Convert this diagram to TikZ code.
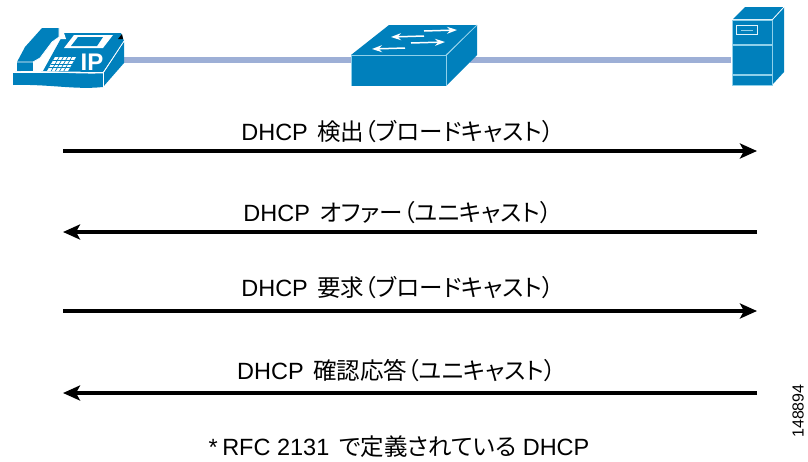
\documentclass[tikz,border=0pt]{standalone}
\usepackage{fontspec}
\setmainfont{Liberation Sans}
\newfontfamily\cjk[RawFeature=+palt]{Noto Sans CJK JP}
\usetikzlibrary{arrows.meta}
\definecolor{iconblue}{HTML}{0080BC}
\definecolor{iconline}{HTML}{8FD0EA}
\definecolor{linkblue}{HTML}{9DAFD6}
\begin{document}
\begin{tikzpicture}[
		x=1pt, y=-1pt,
		msgarrow/.style={-{Stealth[length=17pt,width=15pt,inset=4pt]}, line width=3.6pt},
		msglabel/.style={inner sep=0pt, font=\fontsize{23.5}{25}\selectfont},
		linkline/.style={linkblue, line width=6pt},
		iconedge/.style={white, line width=0.7pt},
		switcharrow/.style={-{Stealth[length=10pt,width=7pt]}, white, line width=1.5pt},
		devicenode/.style={inner sep=0pt, minimum size=0pt},
		]
		\useasboundingbox (0,0) rectangle (808,461);
		%Nodes
		\node[devicenode] (phone)  at (124,59.5) {};
		\node[devicenode] (switch) at (351,59.5) {};
		\node[devicenode] (server) at (731,59.5) {};
		\coordinate (switch-east) at (470,59.5);
		\coordinate (left-1)  at (63,151);
		\coordinate (right-1) at (757,151);
		\coordinate (left-2)  at (63,232);
		\coordinate (right-2) at (757,232);
		\coordinate (left-3)  at (63,311);
		\coordinate (right-3) at (757,311);
		\coordinate (left-4)  at (63,393);
		\coordinate (right-4) at (757,393);

		%Lines
		\draw[linkline] (phone) -- (switch);
		\draw[linkline] (switch-east) -- (server);

		%Phone
		\fill[iconblue] (13,73) -- (103,73) -- (103,87) .. controls (75,90) and (50,84) .. (13,85) -- cycle;
		\fill[iconblue] (103,74) -- (124,42) -- (124,63) -- (103,87) -- cycle;
		\fill[iconblue] (15,71) -- (43,71) -- (64,33) -- (121,33) -- (124,41) -- (103,72) -- cycle;
		\fill[iconblue] (17,62) -- (25,47) -- (42,28) -- (59,28) -- (59,37) -- (52,42) -- (40,58) -- (33,62) -- (33,71) -- (17,71) -- cycle;
		\draw[iconedge] (13,72) .. controls (40,70) and (70,74) .. (103,73) -- (124,41);
		\draw[iconedge] (103,73) -- (103,87);
		\draw[iconedge] (17,62) -- (33,62) -- (40,58) -- (52,42) -- (59,37) -- (59,28);
		\draw[iconedge] (33,62) -- (33,71);
		\fill[white] (60,33) -- (64,33) -- (66,39) -- (60,39) -- cycle;
		\fill[white] (64,48) -- (74,35) -- (113,35) -- (103,48) -- cycle;
		\fill[iconblue] (71,46) -- (78,37) -- (103,37) -- (97,46) -- cycle;
		\fill[white] (47,71) -- (55,57) -- (76,57) -- (68,71) -- cycle;
		\foreach \k in {0.25,0.5,0.75} {
			\draw[iconblue, line width=0.7pt] (47+8*\k,71-14*\k) -- (68+8*\k,71-14*\k);
		}
		\foreach \k in {0.2,0.4,0.6,0.8} {
			\draw[iconblue, line width=0.7pt] (47+21*\k,71) -- (55+21*\k,57);
		}
		\node[text=white, inner sep=0pt, font=\fontsize{24}{26}\selectfont\bfseries] (phone-label) at (92,62.5) {IP};
		\fill[black] (118,39) -- (122,34) -- (123,39) -- cycle;

		%Switch
		\fill[iconblue] (351,55) -- (389,25) -- (477,25) -- (446,55) -- cycle;
		\fill[iconblue] (351,56) rectangle (446,86);
		\fill[iconblue] (446,56) -- (477,25) -- (477,55) -- (446,86) -- cycle;
		\draw[iconline, line width=0.8pt] (351,86) -- (351,55) -- (446,55) -- (446,86);
		\draw[iconline, line width=0.8pt] (446,55) -- (477,25);
		\draw[switcharrow] (424,31) -- (457,30);
		\draw[switcharrow] (424,36) -- (391,37);
		\draw[switcharrow] (411,43) -- (445,42);
		\draw[switcharrow] (405,48) -- (372,49);

		%Server
		\fill[iconblue] (733,19) -- (745,7) -- (784,7) -- (773,19) -- cycle;
		\fill[iconblue] (773,19) -- (784,7) -- (784,72) -- (773,84) -- cycle;
		\fill[iconblue] (732,20) rectangle (772,85);
		\draw[iconline, line width=1pt] (732,85) -- (732,20) -- (772,20) -- (772,85) -- cycle;
		\draw[white, line width=0.8pt] (772.5,19.5) -- (784,7);
		\draw[iconline, line width=1.5pt] (732,45) -- (772,45);
		\draw[iconline, line width=1.5pt] (732,75) -- (772,75);
		\draw[white!75!iconline, line width=1pt] (736.5,25.5) rectangle (757.5,34);
		\draw[iconline, line width=1pt] (741,30) -- (753,30);

		%Arrows
		\draw[msgarrow] (left-1) -- (right-1);
		\draw[msgarrow] (right-2) -- (left-2);
		\draw[msgarrow] (left-3) -- (right-3);
		\draw[msgarrow] (right-4) -- (left-4);

		%Labels
		\node[msglabel] (label-1) at (397.5,132) {DHCP\hspace{3pt} {\cjk 検出（ブロードキャスト）}};
		\node[msglabel] (label-2) at (397.5,213) {DHCP\hspace{3pt} {\cjk オファー（ユニキャスト）}};
		\node[msglabel] (label-3) at (397.5,288) {DHCP\hspace{3pt} {\cjk 要求（ブロードキャスト）}};
		\node[msglabel] (label-4) at (396.5,371) {DHCP\hspace{3pt} {\cjk 確認応答（ユニキャスト）}};
		\node[msglabel] (note) at (399,447) {*\hspace{-2pt} RFC 2131\hspace{3pt} {\cjk で定義されている} DHCP};
		\node[inner sep=0pt, rotate=90, font=\fontsize{16}{18}\selectfont] (figure-id) at (798,411) {148894};
	\end{tikzpicture}
\end{document}
